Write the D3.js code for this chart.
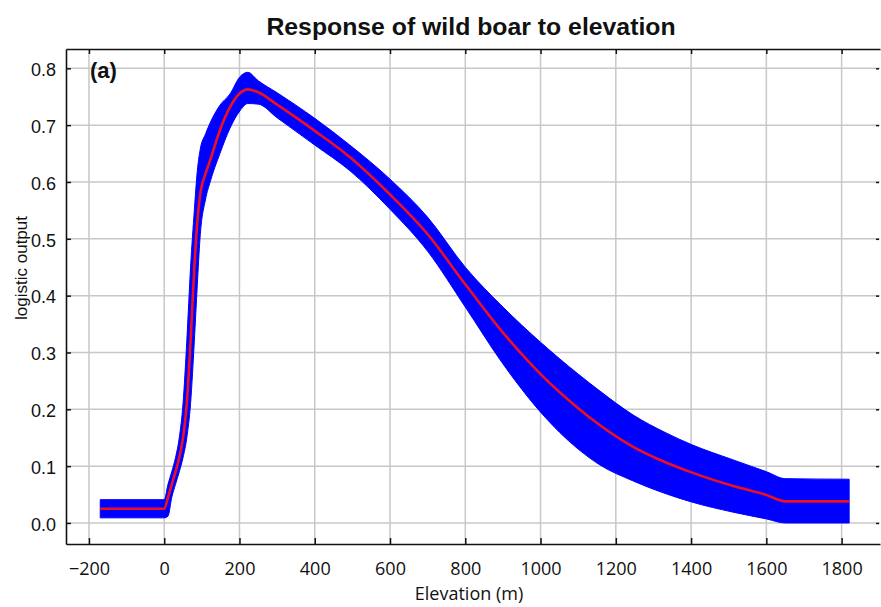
<!DOCTYPE html>
<html>
<head>
<meta charset="utf-8">
<script src="https://cdn.jsdelivr.net/npm/d3@7"></script>
<style>
  body { margin: 0; background: #fff; }
</style>
</head>
<body>
<div id="chart-area"></div>
<script>
// values
const elevation = [-170, 0, 10, 20, 30, 40, 50, 60, 70, 80, 88, 95, 110, 122, 148, 175, 201, 222, 250, 300, 400, 493, 600, 700, 800, 900, 1000, 1100, 1158, 1246, 1335, 1401, 1512, 1601, 1650, 1820];
const meanOut = [0.025, 0.025, 0.045, 0.068, 0.09, 0.115, 0.15, 0.21, 0.32, 0.45, 0.53, 0.575, 0.615, 0.638, 0.691, 0.732, 0.756, 0.763, 0.758, 0.736, 0.690, 0.644, 0.578, 0.508, 0.42, 0.335, 0.262, 0.202, 0.172, 0.134, 0.106, 0.089, 0.065, 0.049, 0.038, 0.038];
const lowerOut = [0.009, 0.009, 0.012, 0.045, 0.068, 0.09, 0.115, 0.15, 0.21, 0.32, 0.42, 0.5, 0.57, 0.6, 0.65, 0.695, 0.725, 0.738, 0.737, 0.713, 0.665, 0.62, 0.552, 0.478, 0.38, 0.28, 0.195, 0.13, 0.102, 0.074, 0.051, 0.037, 0.019, 0.007, 0.0, 0.0];
const upperOut = [0.041, 0.041, 0.068, 0.09, 0.115, 0.15, 0.21, 0.32, 0.45, 0.55, 0.62, 0.655, 0.685, 0.704, 0.735, 0.755, 0.785, 0.793, 0.778, 0.757, 0.712, 0.665, 0.605, 0.538, 0.45, 0.38, 0.318, 0.262, 0.232, 0.19, 0.158, 0.138, 0.111, 0.09, 0.078, 0.077];
const xTicks = [-200, 0, 200, 400, 600, 800, 1000, 1200, 1400, 1600, 1800];
const yTicks = [0.0, 0.1, 0.2, 0.3, 0.4, 0.5, 0.6, 0.7, 0.8];

const margin = { left: 66, right: 1, top: 49, bottom: 63 },
  width = 881 - margin.left - margin.right,
  height = 607 - margin.top - margin.bottom;

const narrow = '"Liberation Sans Narrow", "Arial Narrow", "Liberation Sans", sans-serif';

let svg = d3.select('#chart-area')
  .append('svg')
  .attr('width', 881)
  .attr('height', 607);

let g = svg.append('g')
  .attr('transform', `translate(${margin.left}, ${margin.top})`);

const x = d3.scaleLinear().domain([-261, 1902]).range([0, width]);
const y = d3.scaleLinear().domain([-0.037, 0.834]).range([height, 0]);

const rows = elevation.map((e, i) => ({ e, m: meanOut[i], lo: lowerOut[i], hi: upperOut[i] }));

// grid
g.append('g')
  .selectAll('line')
  .data(xTicks)
  .join('line')
  .attr('x1', d => x(d)).attr('x2', d => x(d))
  .attr('y1', 0).attr('y2', height)
  .attr('stroke', '#c8c8c8').attr('stroke-width', 1.5);

g.append('g')
  .selectAll('line')
  .data(yTicks)
  .join('line')
  .attr('x1', 0).attr('x2', width)
  .attr('y1', d => y(d)).attr('y2', d => y(d))
  .attr('stroke', '#c8c8c8').attr('stroke-width', 1.5);

// band
const band = d3.area()
  .x(d => x(d.e))
  .y0(d => y(d.lo))
  .y1(d => y(d.hi))
  .curve(d3.curveMonotoneX);

g.append('path')
  .datum(rows)
  .attr('d', band)
  .attr('fill', '#0000ff')
  .attr('stroke', '#0000ff')
  .attr('stroke-width', 1);

const line = d3.line()
  .x(d => x(d.e))
  .y(d => y(d.m))
  .curve(d3.curveMonotoneX);

g.append('path')
  .datum(rows)
  .attr('d', line)
  .attr('fill', 'none')
  .attr('stroke', '#ee1020')
  .attr('stroke-width', 2.6);

// axes (ticks point inwards)
const xAxis = g.append('g')
  .attr('transform', `translate(0, ${height})`)
  .call(d3.axisBottom(x).tickValues(xTicks).tickSizeInner(-6).tickSizeOuter(0).tickPadding(18)
    .tickFormat(d => d < 0 ? '\u2212' + Math.abs(d) : d));
xAxis.selectAll('text')
  .attr('font-family', '"Open Sans", sans-serif')
  .attr('font-size', 18)
  .attr('fill', '#111');

const yAxis = g.append('g')
  .call(d3.axisLeft(y).tickValues(yTicks).tickSizeInner(-5).tickSizeOuter(0).tickPadding(10)
    .tickFormat(d3.format('.1f')));
yAxis.selectAll('text')
  .attr('font-family', narrow)
  .attr('font-size', 18)
  .attr('dy', '0.4em')
  .attr('fill', '#111');

g.append('g')
  .call(d3.axisTop(x).tickValues(xTicks).tickSizeInner(-5).tickSizeOuter(0).tickFormat(''));

const rAxis = g.append('g')
  .attr('transform', `translate(${width - 1}, 0)`)
  .call(d3.axisRight(y).tickValues(yTicks).tickSizeInner(-3).tickSizeOuter(0).tickFormat(''));
rAxis.select('.domain').remove();

svg.selectAll('.domain').attr('stroke', '#111').attr('stroke-width', 1.6);
svg.selectAll('.tick line').attr('stroke', '#111').attr('stroke-width', 1.5);

// labels
svg.append('text')
  .attr('x', 471).attr('y', 35)
  .attr('text-anchor', 'middle')
  .attr('font-family', '"Liberation Sans", Arial, sans-serif')
  .attr('font-weight', 'bold')
  .attr('font-size', 24.8)
  .attr('fill', '#111')
  .text('Response of wild boar to elevation');

svg.append('text')
  .attr('x', 90).attr('y', 78)
  .attr('font-family', '"Liberation Sans", Arial, sans-serif')
  .attr('font-weight', 'bold')
  .attr('font-size', 22)
  .attr('fill', '#111')
  .text('(a)');

svg.append('text')
  .attr('x', 469).attr('y', 600)
  .attr('text-anchor', 'middle')
  .attr('font-family', '"Open Sans", sans-serif')
  .attr('font-size', 18)
  .attr('fill', '#111')
  .text('Elevation (m)');

svg.append('text')
  .attr('transform', 'translate(27, 268) rotate(-90)')
  .attr('text-anchor', 'middle')
  .attr('font-family', narrow)
  .attr('font-size', 17)
  .attr('fill', '#111')
  .text('logistic output');
</script>
</body>
</html>
